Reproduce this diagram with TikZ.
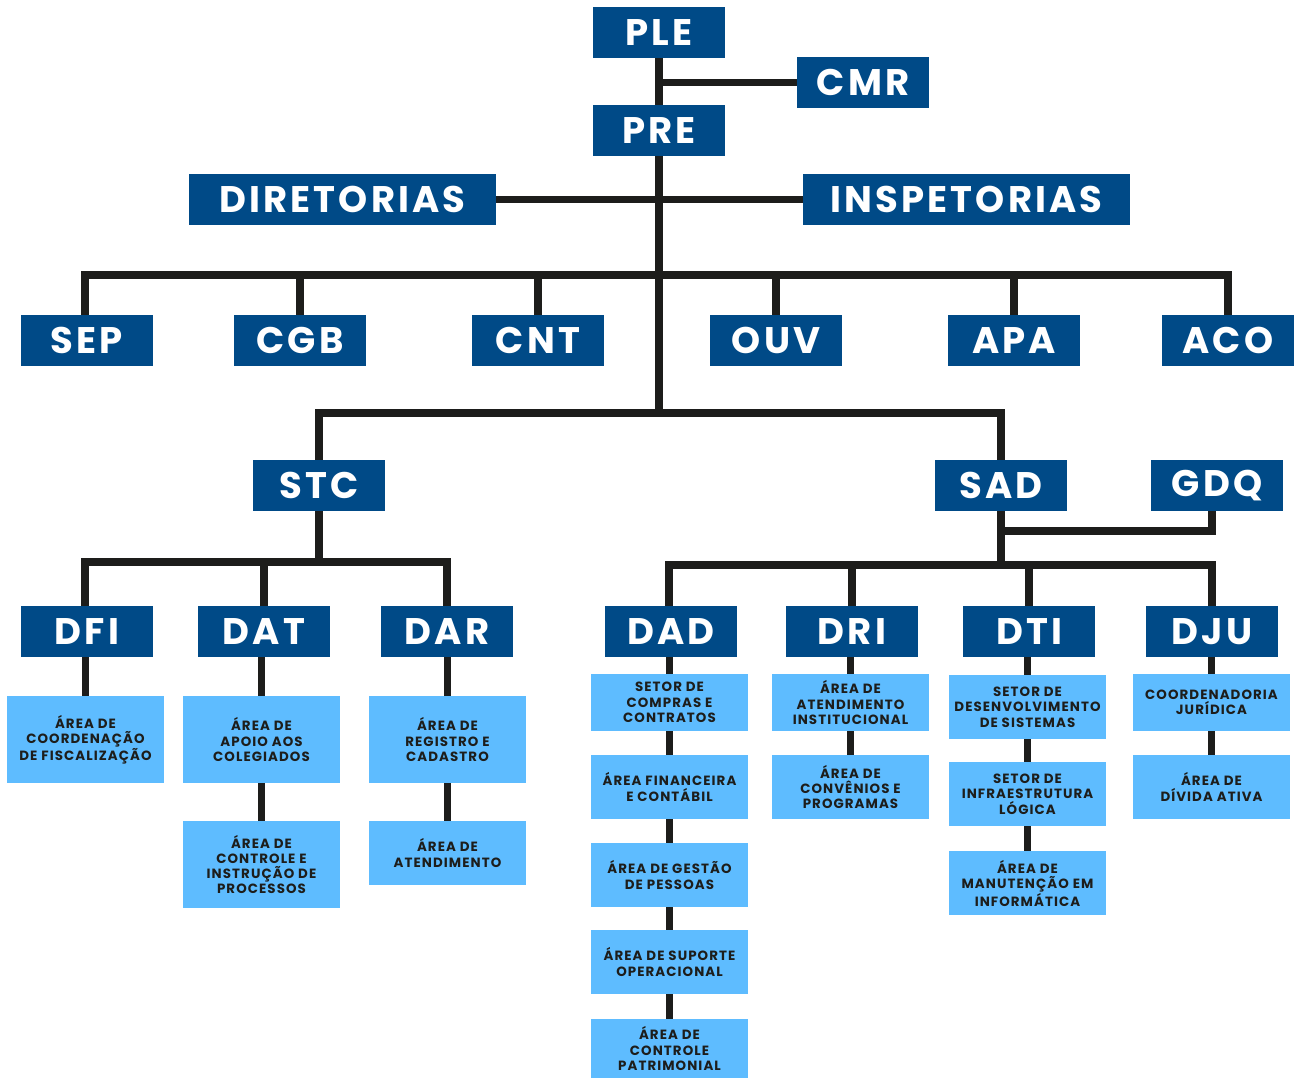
\documentclass[tikz,border=0pt]{standalone}
\usepackage{fontspec}
\setmainfont{Poppins}[LetterSpace=5]
\newfontfamily\bigfnt{Poppins}[LetterSpace=8.5]
\newfontfamily\smallfnt{Poppins}[LetterSpace=8]
\definecolor{dkb}{RGB}{0,74,135}
\definecolor{ltb}{RGB}{94,188,255}
\definecolor{lnc}{RGB}{29,29,27}
\tikzset{
  dk/.style={fill=dkb,text=white,inner sep=0pt,minimum width=132pt,minimum height=51pt,
    font=\bigfnt\bfseries\fontsize{37}{40}\selectfont},
  lt/.style={fill=ltb,text=lnc,inner sep=0pt,minimum width=157pt,align=center,
    font=\smallfnt\bfseries\fontsize{13.4}{15.3}\selectfont},
  ln/.style={draw=lnc,line width=7.5pt}
}
\begin{document}
\begin{tikzpicture}[x=1pt,y=-1pt]
\useasboundingbox (0,0) rectangle (1295,1079);
% top
\node[dk] (PLE) at (659,32.5) {PLE};
\node[dk] (CMR) at (863,82.5) {CMR};
\node[dk] (PRE) at (659,130.5) {PRE};
\node[dk,minimum width=307pt] (DIR) at (342.5,199.5) {DIRETORIAS};
\node[dk,minimum width=327pt] (INS) at (966.5,199.5) {INSPETORIAS};
\node[dk] (SEP) at (87,340.5) {SEP};
\node[dk] (CGB) at (300,340.5) {CGB};
\node[dk] (CNT) at (538,340.5) {CNT};
\node[dk] (OUV) at (776,340.5) {OUV};
\node[dk] (APA) at (1014,340.5) {APA};
\node[dk] (ACO) at (1228,340.5) {ACO};
\node[dk] (STC) at (319,485.5) {STC};
\node[dk] (SAD) at (1001,485.5) {SAD};
\node[dk] (GDQ) at (1217,485.5) {GDQ};
\node[dk] (DFI) at (87,631.5) {DFI};
\node[dk] (DAT) at (264,631.5) {DAT};
\node[dk] (DAR) at (447,631.5) {DAR};
\node[dk] (DAD) at (671,631.5) {DAD};
\node[dk] (DRI) at (852,631.5) {DRI};
\node[dk] (DTI) at (1029,631.5) {DTI};
\node[dk] (DJU) at (1212,631.5) {DJU};
% light boxes
\node[lt,minimum height=87pt] (a1) at (85.5,739.5) {ÁREA DE\\COORDENAÇÃO\\DE FISCALIZAÇÃO};
\node[lt,minimum height=87pt] (a2) at (261.5,739.5) {ÁREA DE\\APOIO AOS\\COLEGIADOS};
\node[lt,minimum height=87pt] (a3) at (261.5,864.5) {ÁREA DE\\CONTROLE E\\INSTRUÇÃO DE\\PROCESSOS};
\node[lt,minimum height=87pt] (a4) at (447.5,739.5) {ÁREA DE\\REGISTRO E\\CADASTRO};
\node[lt,minimum height=64pt] (a5) at (447.5,853) {ÁREA DE\\ATENDIMENTO};
\node[lt,minimum height=57pt] (b1) at (669.5,702.5) {SETOR DE\\COMPRAS E\\CONTRATOS};
\node[lt,minimum height=64pt] (b2) at (669.5,787) {ÁREA FINANCEIRA\\E CONTÁBIL};
\node[lt,minimum height=64pt] (b3) at (669.5,875) {ÁREA DE GESTÃO\\DE PESSOAS};
\node[lt,minimum height=64pt] (b4) at (669.5,962) {ÁREA DE SUPORTE\\OPERACIONAL};
\node[lt,minimum height=59pt] (b5) at (669.5,1048.5) {ÁREA DE\\CONTROLE\\PATRIMONIAL};
\node[lt,minimum height=57pt] (c1) at (850.5,702.5) {ÁREA DE\\ATENDIMENTO\\INSTITUCIONAL};
\node[lt,minimum height=64pt] (c2) at (850.5,787) {ÁREA DE\\CONVÊNIOS E\\PROGRAMAS};
\node[lt,minimum height=64pt] (d1) at (1027.5,707) {SETOR DE\\DESENVOLVIMENTO\\DE SISTEMAS};
\node[lt,minimum height=64pt] (d2) at (1027.5,794) {SETOR DE\\INFRAESTRUTURA\\LÓGICA};
\node[lt,minimum height=64pt] (d3) at (1027.5,883) {ÁREA DE\\MANUTENÇÃO EM\\INFORMÁTICA};
\node[lt,minimum height=57pt] (e1) at (1211.5,702.5) {COORDENADORIA\\JURÍDICA};
\node[lt,minimum height=64pt] (e2) at (1211.5,787) {ÁREA DE\\DÍVIDA ATIVA};
% junctions
\coordinate (j1) at (659,275);
\coordinate (j2) at (659,413);
\coordinate (j3) at (319,562);
\coordinate (j4) at (1001,565);
\coordinate (j5) at (1001,531);
% connectors
\draw[ln] (PLE.south) -- (PRE.north);
\draw[ln] (CMR.west) -- (CMR.west -| PLE.south);
\draw[ln] (DIR.east) -- (INS.west);
\draw[ln] (PRE.south) -- (j2);
\draw[ln] ([xshift=-2pt]SEP.north) |- (j1) -| (ACO.north);
\foreach \n in {CGB,CNT,OUV,APA} \draw[ln] (\n.north) -- (\n.north |- j1);
\draw[ln] (STC.north) |- (j2) -| (SAD.north);
\draw[ln] (STC.south) -- (j3);
\draw[ln] ([xshift=-2pt]DFI.north) |- (j3) -| (DAR.north);
\draw[ln] (DAT.north) -- (DAT.north |- j3);
\draw[ln] (SAD.south) -- (j4);
\draw[ln] ([xshift=-2pt]DAD.north) |- (j4) -| (DJU.north);
\draw[ln] (DRI.north) -- (DRI.north |- j4);
\draw[ln] (DTI.north) -- (DTI.north |- j4);
\draw[ln] ([xshift=-5pt]GDQ.south) |- (j5);
% light connectors
\draw[ln] (a1.north) -- (a1.north |- DFI.south);
\draw[ln] (a2.north) -- (a2.north |- DAT.south);
\draw[ln] (a2.south) -- (a3.north);
\draw[ln] (a4.north) -- (a4.north |- DAR.south);
\draw[ln] (a4.south) -- (a5.north);
\draw[ln] (b1.north) -- (b1.north |- DAD.south);
\draw[ln] (b1.south) -- (b2.north);
\draw[ln] (b2.south) -- (b3.north);
\draw[ln] (b3.south) -- (b4.north);
\draw[ln] (b4.south) -- (b5.north);
\draw[ln] (c1.north) -- (c1.north |- DRI.south);
\draw[ln] (c1.south) -- (c2.north);
\draw[ln] (d1.north) -- (d1.north |- DTI.south);
\draw[ln] (d1.south) -- (d2.north);
\draw[ln] (d2.south) -- (d3.north);
\draw[ln] (e1.north) -- (e1.north |- DJU.south);
\draw[ln] (e1.south) -- (e2.north);
\end{tikzpicture}
\end{document}
